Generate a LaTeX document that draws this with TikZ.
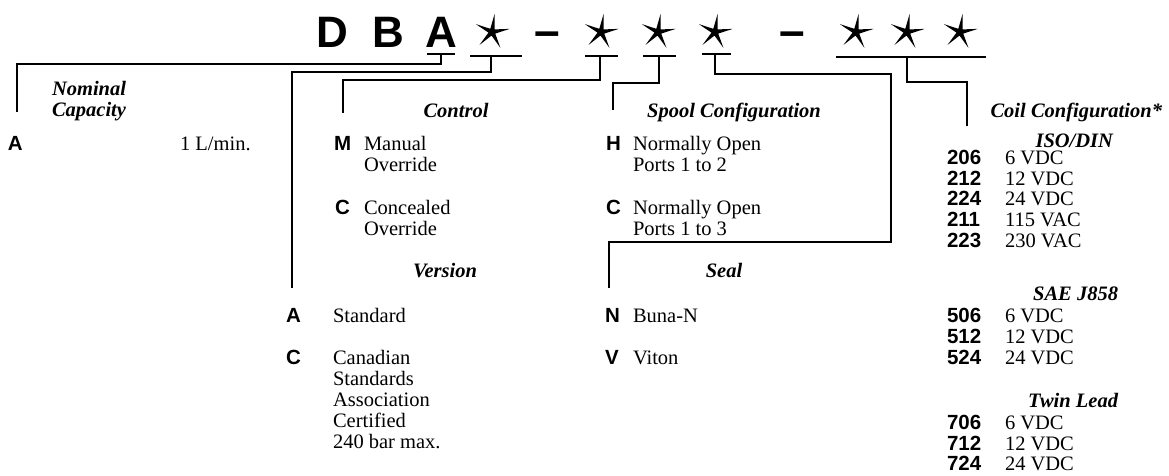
\documentclass[tikz,border=0pt]{standalone}
\usepackage{fontspec}
\setmainfont{Liberation Serif}
\newfontfamily\keyfont{Liberation Sans}
\newcommand{\itemlines}[1]{\begin{tabular}[t]{@{}l@{}}#1\end{tabular}}
\usetikzlibrary{shapes.geometric}

\begin{document}
\begin{tikzpicture}[
    x=1pt, y=-1pt,
    every node/.style={inner sep=0pt, outer sep=0pt},
    code/.style={font=\keyfont\bfseries\fontsize{44}{44}\selectfont, anchor=base},
    hyphen/.style={font=\keyfont\bfseries\fontsize{46}{46}\selectfont, anchor=base},
    wildcard/.style={star, star points=5, star point ratio=5, fill=black,
      minimum size=36pt, rotate=-8},
    head/.style={font=\fontsize{20.5}{21}\selectfont\bfseries\itshape},
    key/.style={font=\keyfont\bfseries\fontsize{20.5}{21}\selectfont, anchor=base west},
    desc/.style={font=\fontsize{20.5}{21}\selectfont, anchor=base west},
    wire/.style={line width=2.8pt}
  ]
  \useasboundingbox (0,0) rectangle (1169,475);

  % model code
  \node[code] (cD) at (332,47) {D};
  \node[code] (cB) at (388,47) {B};
  \node[code] (cA) at (441,47) {A};
  \node[wildcard] (s1) at (492,32) {};
  \node[hyphen] (dash1) at (547,46) {–};
  \node[wildcard] (s2) at (601,32) {};
  \node[wildcard] (s3) at (658,32) {};
  \node[wildcard] (s4) at (715,32) {};
  \node[hyphen] (dash2) at (792,46) {–};
  \node[wildcard] (s5) at (856,32) {};
  \node[wildcard] (s6) at (907,32) {};
  \node[wildcard] (s7) at (960,32) {};

  % underlines
  \draw[wire] (427,54) -- (455,54);
  \draw[wire] (470,56) -- (522,56);
  \draw[wire] (585,56) -- (618,56);
  \draw[wire] (643,56) -- (676,56);
  \draw[wire] (702,54) -- (731,54);
  \draw[wire] (836,57) -- (986,57);

  \coordinate (uA) at (441,54);
  \coordinate (u1) at (491,56);
  \coordinate (u2) at (600,56);
  \coordinate (u3) at (659,56);
  \coordinate (u4) at (715,54);
  \coordinate (u5) at (907,57);

  \coordinate (eNom) at (17,112);
  \coordinate (eVer) at (292,288);
  \coordinate (eCon) at (343,113);
  \coordinate (eSpo) at (613,110);
  \coordinate (kSea) at (891,242);
  \coordinate (eSea) at (609,288);
  \coordinate (eCoi) at (967,126);

  \draw[wire] (uA) -- ++(0,10) -| (eNom);
  \draw[wire] (u1) -- ++(0,16) -| (eVer);
  \draw[wire] (u2) -- ++(0,24) -| (eCon);
  \draw[wire] (u3) -- ++(0,27) -| (eSpo);
  \draw[wire] (u4) -- ++(0,20) -| (kSea) -| (eSea);
  \draw[wire] (u5) -- ++(0,25) -| (eCoi);

  % nominal capacity
  \node[head, anchor=base west] (hNom) at (52,95) {\itemlines{Nominal\\Capacity}};
  \node[key] (kNomA) at (8,150) {A};
  \node[desc] (dNomA) at (180,150) {1 L/min.};

  % control
  \node[head, anchor=base] (hCon) at (456,117) {Control};
  \node[key] (kConM) at (334,150) {M};
  \node[desc] (dConM) at (364,150) {\itemlines{Manual\\Override}};
  \node[key] (kConC) at (335,214) {C};
  \node[desc] (dConC) at (364,214) {\itemlines{Concealed\\Override}};

  % version
  \node[head, anchor=base] (hVer) at (445,277) {Version};
  \node[key] (kVerA) at (286,322) {A};
  \node[desc] (dVerA) at (333,322) {Standard};
  \node[key] (kVerC) at (286,364) {C};
  \node[desc] (dVerC) at (333,364) {\itemlines{Canadian\\Standards\\Association\\Certified\\240 bar max.}};

  % spool configuration
  \node[head, anchor=base] (hSpo) at (734,117) {Spool Configuration};
  \node[key] (kSpoH) at (606,150) {H};
  \node[desc] (dSpoH) at (633,150) {\itemlines{Normally Open\\Ports 1 to 2}};
  \node[key] (kSpoC) at (606,214) {C};
  \node[desc] (dSpoC) at (633,214) {\itemlines{Normally Open\\Ports 1 to 3}};

  % seal
  \node[head, anchor=base] (hSea) at (724,277) {Seal};
  \node[key] (kSeaN) at (605,322) {N};
  \node[desc] (dSeaN) at (633,322) {Buna-N};
  \node[key] (kSeaV) at (605,364) {V};
  \node[desc] (dSeaV) at (633,364) {Viton};

  % coil configuration
  \node[head, anchor=base east] (hCoi) at (1162,117) {Coil Configuration*};
  \node[head, anchor=base east] (hIso) at (1113,147) {ISO/DIN};
  \node[key] (k206) at (947,164) {206};
  \node[desc] (d206) at (1005,164) {6 VDC};
  \node[key] (k212) at (947,185) {212};
  \node[desc] (d212) at (1005,185) {12 VDC};
  \node[key] (k224) at (947,205) {224};
  \node[desc] (d224) at (1005,205) {24 VDC};
  \node[key] (k211) at (947,226) {211};
  \node[desc] (d211) at (1005,226) {115 VAC};
  \node[key] (k223) at (947,247) {223};
  \node[desc] (d223) at (1005,247) {230 VAC};

  \node[head, anchor=base east] (hSae) at (1118,300) {SAE J858};
  \node[key] (k506) at (947,322) {506};
  \node[desc] (d506) at (1005,322) {6 VDC};
  \node[key] (k512) at (947,343) {512};
  \node[desc] (d512) at (1005,343) {12 VDC};
  \node[key] (k524) at (947,364) {524};
  \node[desc] (d524) at (1005,364) {24 VDC};

  \node[head, anchor=base east] (hTwi) at (1118,407) {Twin Lead};
  \node[key] (k706) at (947,429) {706};
  \node[desc] (d706) at (1005,429) {6 VDC};
  \node[key] (k712) at (947,450) {712};
  \node[desc] (d712) at (1005,450) {12 VDC};
  \node[key] (k724) at (947,470) {724};
  \node[desc] (d724) at (1005,470) {24 VDC};
\end{tikzpicture}
\end{document}
